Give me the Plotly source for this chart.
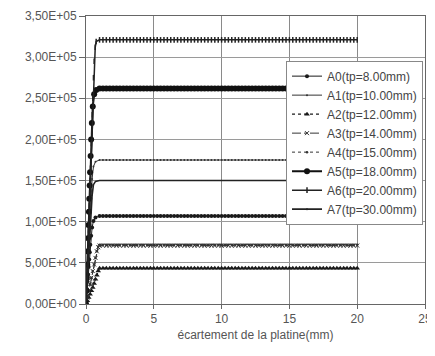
import plotly.graph_objects as go

# ---- data ----
names = ["A0(tp=8.00mm)", "A1(tp=10.00mm)", "A2(tp=12.00mm)", "A3(tp=14.00mm)",
         "A4(tp=15.00mm)", "A5(tp=18.00mm)", "A6(tp=20.00mm)", "A7(tp=30.00mm)"]

# plateau abscissae (mm), shared by every series
x_plateau = [1.0, 1.25, 1.5, 1.75, 2.0, 2.25, 2.5, 2.75, 3.0, 3.25, 3.5, 3.75,
             4.0, 4.25, 4.5, 4.75, 5.0, 5.25, 5.5, 5.75, 6.0, 6.25, 6.5, 6.75,
             7.0, 7.25, 7.5, 7.75, 8.0, 8.25, 8.5, 8.75, 9.0, 9.25, 9.5, 9.75,
             10.0, 10.25, 10.5, 10.75, 11.0, 11.25, 11.5, 11.75, 12.0, 12.25, 12.5, 12.75,
             13.0, 13.25, 13.5, 13.75, 14.0, 14.25, 14.5, 14.75, 15.0, 15.25, 15.5, 15.75,
             16.0, 16.25, 16.5, 16.75, 17.0, 17.25, 17.5, 17.75, 18.0, 18.25, 18.5, 18.75,
             19.0, 19.25, 19.5, 19.75, 20.0]

# plateau force levels
plateau = {
    "A0": 1.07e5, "A1": 1.75e5, "A2": 4.35e4, "A3": 7.1e4,
    "A4": 7.2e4, "A5": 2.62e5, "A6": 3.21e5, "A7": 1.50e5,
}

# initial (rising) part of each curve
ramp_x = {
    "A0": [0, 0.04, 0.08, 0.12, 0.16, 0.2, 0.24, 0.28, 0.32, 0.38, 0.45, 0.55, 0.7],
    "A1": [0, 0.04, 0.08, 0.12, 0.16, 0.2, 0.24, 0.28, 0.32, 0.38, 0.45, 0.55, 0.7],
    "A2": [0, 0.1, 0.2, 0.3, 0.4, 0.5, 0.6, 0.7, 0.8, 0.9],
    "A3": [0, 0.1, 0.2, 0.3, 0.4, 0.5, 0.6, 0.7, 0.8, 0.9],
    "A4": [0, 0.1, 0.2, 0.3, 0.4, 0.5, 0.6, 0.7, 0.8, 0.9],
    "A5": [0, 0.03, 0.06, 0.09, 0.12, 0.15, 0.18, 0.21, 0.24, 0.27, 0.3, 0.34, 0.38, 0.43, 0.5, 0.6, 0.75],
    "A6": [0, 0.03, 0.06, 0.09, 0.12, 0.15, 0.18, 0.21, 0.24, 0.27, 0.3, 0.33, 0.36, 0.39, 0.42, 0.46, 0.5, 0.55, 0.6, 0.68, 0.75],
    "A7": [0, 0.04, 0.08, 0.12, 0.16, 0.2, 0.24, 0.28, 0.32, 0.38, 0.45, 0.55, 0.7],
}
ramp_y = {
    "A0": [0, 9e3, 1.8e4, 2.7e4, 3.6e4, 4.5e4, 5.4e4, 6.3e4, 7.2e4, 8.3e4, 9.3e4, 1.01e5, 1.05e5],
    "A1": [0, 1.4e4, 2.8e4, 4.2e4, 5.6e4, 7.0e4, 8.4e4, 9.8e4, 1.12e5, 1.32e5, 1.52e5, 1.67e5, 1.73e5],
    "A2": [0, 4e3, 8e3, 1.2e4, 1.6e4, 2.0e4, 2.5e4, 3.0e4, 3.5e4, 4.0e4],
    "A3": [0, 8e3, 1.6e4, 2.4e4, 3.2e4, 4.0e4, 4.8e4, 5.6e4, 6.4e4, 6.9e4],
    "A4": [0, 8e3, 1.6e4, 2.4e4, 3.2e4, 4.0e4, 4.8e4, 5.6e4, 6.4e4, 7.0e4],
    "A5": [0, 1.6e4, 3.2e4, 4.8e4, 6.4e4, 8.0e4, 9.6e4, 1.12e5, 1.28e5, 1.44e5, 1.6e5, 1.8e5, 2.0e5, 2.2e5, 2.4e5, 2.55e5, 2.6e5],
    "A6": [0, 1.5e4, 3.0e4, 4.5e4, 6.0e4, 7.5e4, 9.0e4, 1.05e5, 1.2e5, 1.35e5, 1.5e5, 1.65e5, 1.8e5, 1.95e5, 2.1e5, 2.3e5, 2.5e5, 2.75e5, 2.95e5, 3.12e5, 3.19e5],
    "A7": [0, 1.2e4, 2.4e4, 3.6e4, 4.8e4, 6.0e4, 7.2e4, 8.4e4, 9.6e4, 1.14e5, 1.32e5, 1.45e5, 1.49e5],
}

y_tickvals = [0, 5e4, 1e5, 1.5e5, 2e5, 2.5e5, 3e5, 3.5e5]
y_ticktext = ["0,00E+00", "5,00E+04", "1,00E+05", "1,50E+05",
              "2,00E+05", "2,50E+05", "3,00E+05", "3,50E+05"]
x_tickvals = [0, 5, 10, 15, 20, 25]
x_title = "écartement de la platine(mm)"

# ---- styles ----
styles = {
    "A0": dict(line=dict(color="#1a1a1a", width=1), marker=dict(symbol="circle", size=4, color="#1a1a1a")),
    "A1": dict(line=dict(color="#333333", width=1), marker=dict(symbol="circle", size=2, color="#333333")),
    "A2": dict(line=dict(color="#1a1a1a", width=1.2, dash="dot"), marker=dict(symbol="triangle-up", size=5, color="#1a1a1a")),
    "A3": dict(line=dict(color="#333333", width=1, dash="dashdot"), marker=dict(symbol="x-thin", size=4, color="#333333", line=dict(width=1, color="#333333"))),
    "A4": dict(line=dict(color="#333333", width=1, dash="dot"), marker=dict(symbol="circle", size=2.5, color="#333333")),
    "A5": dict(line=dict(color="#111111", width=2), marker=dict(symbol="circle", size=6, color="#111111")),
    "A6": dict(line=dict(color="#222222", width=1.5), marker=dict(symbol="line-ns-open", size=4, color="#222222", line=dict(width=1.5, color="#222222"))),
    "A7": dict(line=dict(color="#222222", width=1.6), marker=dict(symbol="circle", size=1, color="#222222")),
}

fig = go.Figure()
for i, name in enumerate(names):
    key = "A%d" % i
    xs = ramp_x[key] + x_plateau
    ys = ramp_y[key] + [plateau[key]] * len(x_plateau)
    fig.add_trace(go.Scatter(x=xs, y=ys, mode="lines+markers", name=name, **styles[key]))

# the page body adds an 8 px margin, so the figure is sized to fit the window
font_family = "Liberation Sans, Arial, sans-serif"
fig.update_layout(
    width=427, height=348,
    margin=dict(l=78, r=10, t=8, b=52),
    paper_bgcolor="white", plot_bgcolor="white",
    font=dict(family=font_family, size=12, color="#555555"),
    legend=dict(x=0.59, y=0.845, xanchor="left", yanchor="top",
                bgcolor="white", bordercolor="#888888", borderwidth=1,
                font=dict(size=12, color="#444444"), tracegroupgap=0,
                itemwidth=30),
    xaxis=dict(range=[0, 25], tickvals=x_tickvals, showgrid=True, gridcolor="#8a8a8a",
               gridwidth=1, zeroline=False, showline=True, linecolor="#666666",
               mirror=True, ticks="outside", ticklen=4, tickcolor="#666666",
               automargin=False,
               title=dict(text=x_title, font=dict(size=12, color="#555555"), standoff=5)),
    yaxis=dict(range=[0, 3.5e5], tickvals=y_tickvals, ticktext=y_ticktext,
               showgrid=True, gridcolor="#9a9a9a", gridwidth=1, zeroline=False,
               showline=True, linecolor="#666666", mirror=True, automargin=False,
               ticks="outside", ticklen=6, tickcolor="#666666"),
)

fig.write_html("out.html")
